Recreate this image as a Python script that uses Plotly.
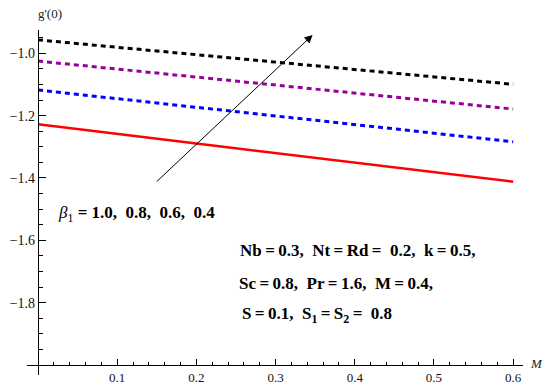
import plotly.graph_objects as go

# Data
M_vals = [0.0, 0.3, 0.6]
g_beta_04 = [-0.957, -1.028, -1.0995]   # black dotted
g_beta_06 = [-1.025, -1.102, -1.179]    # purple dotted
g_beta_08 = [-1.118, -1.201, -1.284]    # blue dotted
g_beta_10 = [-1.228, -1.320, -1.412]    # red solid

x_ticks = [0.1, 0.2, 0.3, 0.4, 0.5, 0.6]
x_ticklabels = ["0.1", "0.2", "0.3", "0.4", "0.5", "0.6"]
y_ticks = [-1.8, -1.6, -1.4, -1.2, -1.0]
y_ticklabels = ["\u22121.8", "\u22121.6", "\u22121.4", "\u22121.2", "\u22121.0"]

x_range = [-0.0139, 0.6124]
y_range = [-2.032, -0.9253]

serif = "Liberation Serif, Times New Roman, serif"

fig = go.Figure()
series = [
    (g_beta_04, "black", "5px,4px", 3),
    (g_beta_06, "#990099", "5px,4px", 3),
    (g_beta_08, "#0000ff", "5px,4px", 3),
    (g_beta_10, "#ff0000", "solid", 2.5),
]
for ys, col, dash, w in series:
    fig.add_trace(go.Scatter(x=M_vals, y=ys, mode="lines",
                             line=dict(color=col, dash=dash, width=w),
                             showlegend=False, hoverinfo="skip"))

xpos = (0 - x_range[0]) / (x_range[1] - x_range[0])
ypos = (-2.0 - y_range[0]) / (y_range[1] - y_range[0])

fig.update_layout(
    width=550, height=389,
    margin=dict(l=27, r=27, t=30, b=14),
    paper_bgcolor="white", plot_bgcolor="white",
    font=dict(family=serif, size=13, color="#222"),
    xaxis=dict(range=x_range, showgrid=False, zeroline=False, automargin=False,
               showline=True, linecolor="black", linewidth=1.3,
               anchor="free", position=ypos,
               tickmode="array", tickvals=x_ticks, ticktext=x_ticklabels,
               ticks="inside", ticklen=6, tickcolor="black", tickwidth=1,
               minor=dict(tickmode="linear", tick0=0, dtick=0.02, ticks="inside",
                          ticklen=3, tickcolor="black", tickwidth=1),
               tickfont=dict(family=serif, size=13, color="#111")),
    yaxis=dict(range=y_range, showgrid=False, zeroline=False, automargin=False,
               showline=True, linecolor="black", linewidth=1.3,
               anchor="free", position=xpos,
               tickmode="array", tickvals=y_ticks, ticktext=y_ticklabels,
               ticks="inside", ticklen=7, tickcolor="black", tickwidth=1,
               minor=dict(tickmode="linear", tick0=-2.0, dtick=0.05, ticks="inside",
                          ticklen=4, tickcolor="black", tickwidth=1),
               tickfont=dict(family=serif, size=14, color="#111")),
)

nb = "\u00a0"
th = "\u2009"
annotations = [
    dict(x=0.047, y=1.049, xref="paper", yref="paper", text="g'(0)", showarrow=False,
         font=dict(family=serif, size=13, color="#222"), xanchor="center", yanchor="middle"),
    dict(x=1.027, y=0.032, xref="paper", yref="paper", text="<i>M</i>", showarrow=False,
         font=dict(family=serif, size=13, color="#222"), xanchor="center", yanchor="middle"),
    dict(x=0.124, y=-1.5156, xref="x", yref="y",
         text="<i>β</i><sub>1</sub>" + nb + "<b>=" + nb + "1.0," + nb*2 + "0.8," + nb*2 + "0.6," + nb*2 + "0.4</b>",
         showarrow=False, font=dict(family=serif, size=17, color="black"),
         xanchor="center", yanchor="middle"),
    dict(x=0.4035, y=-1.634, xref="x", yref="y",
         text="<b>Nb" + th + "=" + th + "0.3," + nb*2 + "Nt" + th + "=" + th + "Rd" + th + "=" + nb*2 + "0.2," + nb*2 + "k" + th + "=" + th + "0.5,</b>",
         showarrow=False, font=dict(family=serif, size=17, color="black"),
         xanchor="center", yanchor="middle"),
    dict(x=0.3757, y=-1.740, xref="x", yref="y",
         text="<b>Sc" + th + "=" + th + "0.8," + nb*2 + "Pr" + th + "=" + th + "1.6," + nb*2 + "M" + th + "=" + th + "0.4,</b>",
         showarrow=False, font=dict(family=serif, size=17, color="black"),
         xanchor="center", yanchor="middle"),
    dict(x=0.3523, y=-1.838, xref="x", yref="y",
         text="<b>S" + th + "=" + th + "0.1," + nb*2 + "S<sub>1</sub>" + th + "=" + th + "S<sub>2</sub>" + th + "=" + nb*2 + "0.8</b>",
         showarrow=False, font=dict(family=serif, size=17, color="black"),
         xanchor="center", yanchor="middle"),
    dict(x=0.3467, y=-0.9413, ax=0.148, ay=-1.416, xref="x", yref="y",
         axref="x", ayref="y", text="", showarrow=True,
         arrowhead=2, arrowsize=1.6, arrowwidth=1, arrowcolor="black"),
]
fig.update_layout(annotations=annotations)

fig.write_html("out.html", config={"displayModeBar": False},
               post_script="document.body.style.margin='0px';document.body.style.padding='0px';")
